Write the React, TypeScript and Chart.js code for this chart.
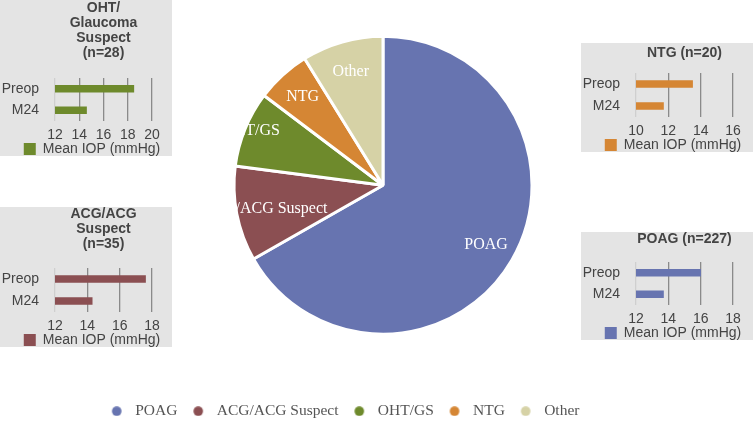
import React, { useEffect, useRef } from 'react';
import { Chart, registerables } from 'chart.js';

Chart.register(...registerables);

// ---- Pie data ----
const pieLabels = ['POAG', 'ACG/ACG Suspect', 'OHT/GS', 'NTG', 'Other'];
const pieCounts = [227, 35, 28, 20, 30];
const pieColors = ['#6774B0', '#8B4F52', '#6E8A2C', '#D58634', '#D6D2A6'];

// ---- Inset bar data ----
const iopCategories = ['Preop', 'M24'];
const iopSeriesLabel = 'Mean IOP (mmHg)';
const ohtTitle = ['OHT/', 'Glaucoma', 'Suspect', '(n=28)'];
const ohtValues = [18.5, 14.6];
const ohtRange = [12, 20];
const acgTitle = ['ACG/ACG', 'Suspect', '(n=35)'];
const acgValues = [17.6, 14.3];
const acgRange = [12, 18];
const ntgTitle = ['NTG (n=20)'];
const ntgValues = [13.5, 11.7];
const ntgRange = [10, 16];
const poagTitle = ['POAG (n=227)'];
const poagValues = [16.0, 13.7];
const poagRange = [12, 18];

const SANS = '"Liberation Sans", Arial, sans-serif';
const SERIF = '"Liberation Serif", Georgia, serif';

const insets = [
  { title: ohtTitle, values: ohtValues, range: ohtRange, color: '#6E8A2C', left: 0, top: 0, w: 172, h: 156, topH: 78, titlePad: 0.5 },
  { title: acgTitle, values: acgValues, range: acgRange, color: '#8B4F52', left: 0, top: 207, w: 172, h: 140, topH: 61, titlePad: 0 },
  { title: ntgTitle, values: ntgValues, range: ntgRange, color: '#D58634', left: 581, top: 43, w: 172, h: 109, topH: 30, titlePad: 2.5 },
  { title: poagTitle, values: poagValues, range: poagRange, color: '#6774B0', left: 581, top: 232, w: 172, h: 108, topH: 30, titlePad: 0 },
];

// label placement (fraction of radius) per slice
const labelRadius = [0.8, 0.81, 0.957, 0.8, 0.79];

function makeDot(color: string) {
  const c = document.createElement('canvas');
  c.width = 34;
  c.height = 10;
  const g = c.getContext('2d')!;
  g.fillStyle = color;
  g.beginPath();
  g.arc(14, 5, 4.8, 0, Math.PI * 2);
  g.fill();
  return c;
}

const sliceLabelPlugin = {
  id: 'sliceLabels',
  afterDatasetsDraw(chart: any) {
    const ctx = chart.ctx;
    const meta = chart.getDatasetMeta(0);
    ctx.save();
    ctx.font = '16px ' + SERIF;
    ctx.fillStyle = '#ffffff';
    ctx.textAlign = 'center';
    ctx.textBaseline = 'middle';
    meta.data.forEach((arc: any, i: number) => {
      const p = arc.getProps(['x', 'y', 'startAngle', 'endAngle', 'outerRadius'], true);
      const mid = (p.startAngle + p.endAngle) / 2;
      const r = p.outerRadius * labelRadius[i];
      ctx.fillText(chart.data.labels[i], p.x + Math.cos(mid) * r, p.y + Math.sin(mid) * r);
    });
    ctx.restore();
  },
};

function PieChart() {
  const ref = useRef<HTMLCanvasElement>(null);
  useEffect(() => {
    const ov: any = (Chart as any).overrides.pie || (Chart as any).overrides.doughnut;
    const baseGen = ov.plugins.legend.labels.generateLabels;
    const chart = new Chart(ref.current!, {
      type: 'pie',
      data: {
        labels: pieLabels,
        datasets: [
          {
            data: pieCounts,
            backgroundColor: pieColors,
            borderColor: '#ffffff',
            borderWidth: 3,
            radius: 149,
          } as any,
        ],
      },
      options: {
        animation: false,
        responsive: false,
        layout: { padding: { left: 96, right: 83, top: 0, bottom: 0 } },
        plugins: {
          tooltip: { enabled: false },
          legend: {
            position: 'bottom',
            align: 'start',
            labels: {
              usePointStyle: true,
              padding: 16,
              color: '#555555',
              font: { family: SERIF, size: 15.5 },
              generateLabels: (c: any) =>
                baseGen(c).map((it: any, i: number) => ({ ...it, pointStyle: makeDot(pieColors[i]) })),
            },
          },
        },
      } as any,
      plugins: [sliceLabelPlugin],
    });
    return () => chart.destroy();
  }, []);
  return (
    <canvas
      ref={ref}
      width={753}
      height={446}
      style={{ position: 'absolute', left: 0, top: -17, width: 753, height: 446 }}
    />
  );
}

const INSET_CANVAS_W = 184;
const INSET_EXTRA_H = 10;

function InsetChart({ cfg }: { cfg: any }) {
  const ref = useRef<HTMLCanvasElement>(null);
  useEffect(() => {
    const tickFont = { family: SANS, size: 14 };
    const chart = new Chart(ref.current!, {
      type: 'bar',
      data: {
        labels: iopCategories,
        datasets: [
          {
            label: iopSeriesLabel,
            data: cfg.values,
            backgroundColor: cfg.color,
            borderWidth: 0,
            barThickness: 7,
            xAxisID: 'x',
            yAxisID: 'y',
          },
        ],
      },
      options: {
        animation: false,
        responsive: false,
        indexAxis: 'y',
        layout: { padding: 0 },
        plugins: {
          tooltip: { enabled: false },
          legend: {
            position: 'bottom',
            labels: {
              boxWidth: 12,
              boxHeight: 12,
              padding: 2,
              color: '#444444',
              font: { family: SANS, size: 14 },
            },
          },
        },
        scales: {
          y: {
            type: 'category',
            grid: { display: false, drawTicks: false },
            border: { display: false },
            ticks: { padding: 16, color: '#444444', font: tickFont },
            afterFit: (s: any) => {
              s.width = 55;
            },
          },
          x: {
            type: 'linear',
            position: 'bottom',
            min: cfg.range[0],
            max: cfg.range[1],
            ticks: { stepSize: 2, padding: 6, color: '#444444', font: tickFont },
            grid: {
              drawTicks: false,
              lineWidth: 1.3,
              color: (c: any) => (c.index === 0 ? '#cfcfcf' : '#8a8a8a'),
            },
            border: { display: false },
            afterFit: (s: any) => {
              s.height = 19;
            },
          },
          top: {
            type: 'linear',
            position: 'top',
            display: true,
            ticks: { display: false },
            grid: { display: false, drawTicks: false },
            border: { display: false },
            title: {
              display: true,
              text: cfg.title,
              color: '#444444',
              font: { family: SANS, size: 14, weight: 'bold', lineHeight: '15px' },
              padding: { top: cfg.titlePad, bottom: 0 },
            },
            afterFit: (s: any) => {
              s.height = cfg.topH;
            },
          },
          right: {
            type: 'linear',
            position: 'right',
            display: true,
            ticks: { display: false },
            grid: { display: false, drawTicks: false },
            border: { display: false },
            afterFit: (s: any) => {
              s.width = 32;
            },
          },
        },
      } as any,
    });
    return () => chart.destroy();
  }, [cfg]);
  return (
    <div
      style={{
        position: 'absolute',
        left: cfg.left,
        top: cfg.top,
        width: cfg.w,
        height: cfg.h,
        background: '#E4E4E4',
      }}
    >
      <canvas
        ref={ref}
        width={INSET_CANVAS_W}
        height={cfg.h + INSET_EXTRA_H}
        style={{
          position: 'absolute',
          left: 0,
          top: 0,
          width: INSET_CANVAS_W,
          height: cfg.h + INSET_EXTRA_H,
        }}
      />
    </div>
  );
}

export default function App() {
  return (
    <div
      style={{
        position: 'fixed',
        left: 0,
        top: 0,
        width: 753,
        height: 423,
        overflow: 'hidden',
        background: '#ffffff',
      }}
    >
      <PieChart />
      {insets.map((cfg, i) => (
        <InsetChart key={i} cfg={cfg} />
      ))}
    </div>
  );
}
